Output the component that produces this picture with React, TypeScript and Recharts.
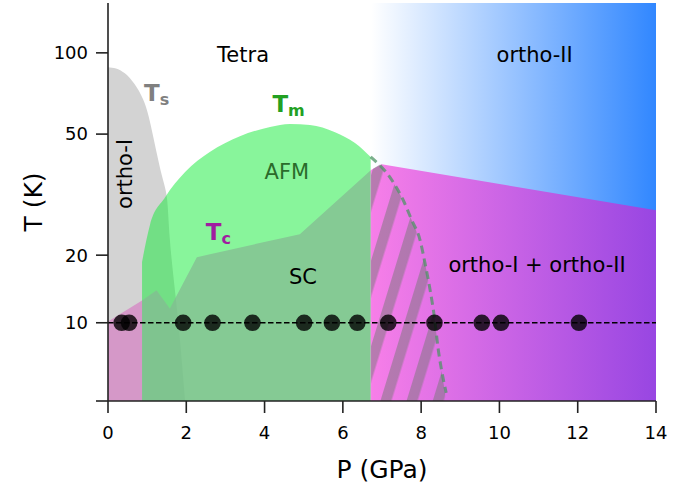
import React from "react";
import {
  ComposedChart,
  Area,
  Line,
  Scatter,
  XAxis,
  YAxis,
  ReferenceLine,
  ReferenceDot,
} from "recharts";

const FONT = "DejaVu Sans";
const yMin = 5.13;
const yMax = 153;

// phase boundaries, P in GPa, T in K
const tsP = [0, 0.43, 0.89, 1.15, 1.38, 1.51, 1.58, 1.71, 1.84, 1.97];
const tsT = [88.5, 84, 67.6, 49.3, 35, 28.7, 20.4, 13.2, 8.6, 5.13];

const tmP = [0.87, 1.07, 1.46, 1.97, 2.6, 3.37, 4.14, 4.65, 5.16, 5.8, 6.31, 6.71];
const tmT = [16.8, 23.0, 29.2, 36.2, 42.9, 49.1, 53.1, 54.5, 54.0, 50.8, 46.3, 41.1];

const tcLeftP = [0, 0.87];
const tcLeftT = [10.1, 12.1];
const tcP = [0.87, 1.24, 1.58, 2.27, 4.9, 6.72];
const tcT = [12.1, 13.2, 11.3, 17.5, 21.3, 36.8];

const orthoP = [6.72, 6.99, 14];
const orthoT = [36.8, 38.7, 26.1];

const tetraP = [6.72, 14];

const dashP = [6.71, 7.25, 7.54, 7.76, 7.97, 8.1, 8.23, 8.35, 8.43, 8.52, 8.64];
const dashT = [41.2, 33.8, 28.5, 24, 20.3, 16.6, 13.2, 10.2, 8.1, 6.7, 5.5];

const hatchP = [6.72, 6.95, 7.25, 7.54, 7.76, 7.97, 8.1, 8.23, 8.35, 8.43, 8.52, 8.64];
const hatchT = [36.8, 38.6, 33.8, 28.5, 24, 20.3, 16.6, 13.2, 10.2, 8.1, 6.7, 5.13];

// measured pressures at 10 K
const dotP = [0.35, 0.54, 1.92, 2.67, 3.69, 5.01, 5.72, 6.37, 7.16, 8.34, 9.55, 10.04, 12.03];
const dotT = 10;

const xTicks = [0, 2, 4, 6, 8, 10, 12, 14];
const yTicks = [yMin, 10, 17.8, 50, 100];
const yTickLabels = ["", "10", "20", "50", "100"];

const pts = (ps: number[], ts: number[]) => ps.map((P, i) => ({ P, T: ts[i] }));

const regionLabels = [
  { text: "Tetra", P: 3.45, T: 98, color: "#000" },
  { text: "ortho-II", P: 10.9, T: 98, color: "#000" },
  { text: "AFM", P: 4.57, T: 36.2, color: "#2b6b2b" },
  { text: "SC", P: 4.98, T: 14.8, color: "#000" },
  { text: "ortho-I + ortho-II", P: 10.96, T: 16.3, color: "#000" },
];

const lineLabels = [
  { main: "T", sub: "s", P: 0.92, T: 66.2, color: "#808080" },
  { main: "T", sub: "m", P: 4.2, T: 60.5, color: "#22a022" },
  { main: "T", sub: "c", P: 2.5, T: 20.2, color: "#a01ea0" },
];

export default function App() {
  return (
    <div style={{ position: "fixed", left: 0, top: 0, background: "#fff" }}>
      <ComposedChart
        width={691}
        height={491}
        margin={{ top: 3, right: 35, left: 0, bottom: 0 }}
        style={{ fontFamily: FONT }}
      >
        <defs>
          <linearGradient id="blueGrad" x1="0" y1="0" x2="1" y2="0">
            <stop offset="0%" stopColor="#ffffff" />
            <stop offset="100%" stopColor="#3187ff" />
          </linearGradient>
          <linearGradient id="magGrad" x1="0" y1="0" x2="1" y2="0">
            <stop offset="0%" stopColor="#f77fe8" />
            <stop offset="100%" stopColor="#9846e2" />
          </linearGradient>
          <pattern
            id="hatch"
            x="6"
            width="25"
            height="25"
            patternUnits="userSpaceOnUse"
            patternTransform="rotate(17)"
          >
            <rect x="0" y="0" width="10.5" height="25" fill="#777777" fillOpacity={0.5} />
          </pattern>
        </defs>

        <XAxis
          type="number"
          dataKey="P"
          domain={[0, 14]}
          ticks={xTicks}
          allowDataOverflow
          height={90}
          tickSize={12}
          tickMargin={13}
          tick={{ fill: "#000", fontSize: 18, fontFamily: FONT }}
          axisLine={{ stroke: "#222", strokeWidth: 1.6 }}
          tickLine={{ stroke: "#222", strokeWidth: 1.6 }}
          label={{
            content: ({ viewBox }: any) => (
              <text
                x={viewBox.x + viewBox.width / 2}
                y={viewBox.y + 77}
                textAnchor="middle"
                fontSize={25}
                fontFamily={FONT}
                fill="#000"
              >
                P (GPa)
              </text>
            ),
          }}
        />
        <YAxis
          type="number"
          dataKey="T"
          scale="log"
          domain={[yMin, yMax]}
          ticks={yTicks}
          allowDataOverflow
          width={108}
          tickSize={12}
          tickMargin={8}
          tickFormatter={(v: number) => yTickLabels[yTicks.indexOf(v)] ?? ""}
          tick={{ fill: "#000", fontSize: 18, fontFamily: FONT }}
          axisLine={{ stroke: "#222", strokeWidth: 1.6 }}
          tickLine={{ stroke: "#222", strokeWidth: 1.6 }}
          label={{
            content: ({ viewBox }: any) => {
              const cx = 33;
              const cy = viewBox.y + viewBox.height / 2;
              return (
                <text
                  x={cx}
                  y={cy}
                  transform={`rotate(-90, ${cx}, ${cy})`}
                  textAnchor="middle"
                  dominantBaseline="central"
                  fontSize={25}
                  fontFamily={FONT}
                  fill="#000"
                >
                  T (K)
                </text>
              );
            },
          }}
        />
        <XAxis xAxisId="top" orientation="top" type="number" domain={[0, 14]} height={0}
          tick={false} tickLine={false} axisLine={{ stroke: "#222", strokeWidth: 1.6 }} />
        <YAxis yAxisId="right" orientation="right" type="number" domain={[0, 1]} width={0}
          tick={false} tickLine={false} axisLine={{ stroke: "#222", strokeWidth: 1.6 }} />

        <Area data={pts(tetraP, [yMax, yMax])} dataKey="T" type="linear" baseValue={yMin}
          stroke="none" fill="url(#blueGrad)" fillOpacity={1} isAnimationActive={false} />
        <Area data={pts(orthoP, orthoT)} dataKey="T" type="linear" baseValue={yMin}
          stroke="none" fill="url(#magGrad)" fillOpacity={1} isAnimationActive={false} />
        <Area data={pts(tsP, tsT)} dataKey="T" type="natural" baseValue={yMin}
          stroke="none" fill="#d3d3d3" fillOpacity={1} isAnimationActive={false} />
        <Area data={pts(tcLeftP, tcLeftT)} dataKey="T" type="linear" baseValue={yMin}
          stroke="none" fill="#d598c8" fillOpacity={1} isAnimationActive={false} />
        <Area data={pts(tcP, tcT)} dataKey="T" type="linear" baseValue={yMin}
          stroke="none" fill="#f68bec" fillOpacity={0.75} isAnimationActive={false} />
        <Area data={pts(tmP, tmT)} dataKey="T" type="monotone" baseValue={yMin}
          stroke="none" fill="#11eb37" fillOpacity={0.5} isAnimationActive={false} />
        <Area data={pts(hatchP, hatchT)} dataKey="T" type="linear" baseValue={yMin}
          stroke="none" fill="url(#hatch)" fillOpacity={1} isAnimationActive={false} />
        <Line data={pts(dashP, dashT)} dataKey="T" type="monotone" dot={false}
          stroke="#4f9466" strokeOpacity={0.75} strokeWidth={3} strokeDasharray="8 5"
          isAnimationActive={false} />

        <Scatter
          data={dotP.map((P) => ({ P, T: dotT }))}
          dataKey="T"
          isAnimationActive={false}
          shape={(p: any) => <circle cx={p.cx} cy={p.cy} r={8.3} fill="#000" fillOpacity={0.8} />}
        />
        <ReferenceLine y={10} stroke="#000" strokeWidth={1.5} strokeDasharray="5.5 2.5" />

        {regionLabels.map((l) => (
          <ReferenceDot
            key={l.text}
            x={l.P}
            y={l.T}
            r={0}
            shape={(p: any) => (
              <text x={p.cx} y={p.cy} textAnchor="middle" dominantBaseline="central"
                fontSize={21} fontFamily={FONT} fill={l.color}>
                {l.text}
              </text>
            )}
          />
        ))}
        <ReferenceDot
          x={0.43}
          y={35.6}
          r={0}
          shape={(p: any) => (
            <text x={p.cx} y={p.cy} transform={`rotate(-90, ${p.cx}, ${p.cy})`}
              textAnchor="middle" dominantBaseline="central" fontSize={21}
              fontFamily={FONT} fill="#000">
              ortho-I
            </text>
          )}
        />
        {lineLabels.map((l) => (
          <ReferenceDot
            key={l.sub}
            x={l.P}
            y={l.T}
            r={0}
            shape={(p: any) => (
              <text x={p.cx} y={p.cy} fontFamily={FONT} fontWeight="bold" fill={l.color}>
                <tspan fontSize={23}>{l.main}</tspan>
                <tspan fontSize={16} dy={4}>{l.sub}</tspan>
              </text>
            )}
          />
        ))}
      </ComposedChart>
    </div>
  );
}
